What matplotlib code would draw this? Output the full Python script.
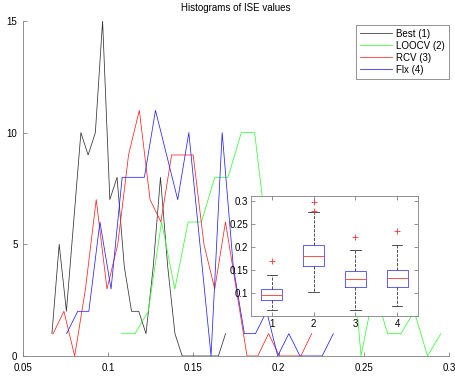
import numpy as np
import matplotlib
matplotlib.use('Agg')
import matplotlib.pyplot as plt

plt.rcParams['font.family'] = ['Liberation Sans', 'DejaVu Sans']
plt.rcParams['font.size'] = 7

# histogram counts (25 bins each)
labels = ['Best (1)', 'LOOCV (2)', 'RCV (3)', 'Flx (4)']
colors = ['#333333', '#33ff33', '#ff2222', '#2222ff']

best_counts = [1, 5, 2, 6, 10, 9, 10, 15, 7, 8, 4, 2, 2, 1, 4, 8, 4, 1, 0, 0, 0, 0, 0, 0, 1]
loocv_counts = [1, 1, 2, 6, 3, 6, 6, 8, 8, 10, 10, 5, 4, 5, 4, 4, 2, 7, 0, 3, 1, 1, 2, 0, 1]
rcv_counts = [1, 2, 0, 3, 7, 3, 5, 9, 11, 7, 6, 9, 9, 9, 5, 3, 6, 3, 0, 0, 1, 0, 0, 0, 1]
flx_counts = [1, 2, 2, 6, 3, 8, 8, 8, 11, 9, 7, 10, 5, 0, 10, 4, 1, 1, 2, 0, 1, 0, 0, 0, 1]

# first / last bin centre of each histogram
best_range = (0.0670, 0.1689)
loocv_range = (0.1079, 0.2952)
rcv_range = (0.0677, 0.2194)
flx_range = (0.0756, 0.2321)

# boxplot summary (ISE values)
box_pos = [1, 2, 3, 4]
box_med = [0.095, 0.180, 0.130, 0.132]
box_q1 = [0.0856, 0.1576, 0.113, 0.113]
box_q3 = [0.1086, 0.2036, 0.148, 0.150]
box_lo = [0.0633, 0.102, 0.063, 0.071]
box_hi = [0.138, 0.275, 0.192, 0.203]
box_out = [[0.170], [0.278, 0.297], [0.221], [0.2345]]

fig = plt.figure(figsize=(4.55, 3.8), dpi=100)
ax = fig.add_axes([0.0505, 0.0632, 0.9363, 0.8816])

series = [best_counts, loocv_counts, rcv_counts, flx_counts]
ranges = [best_range, loocv_range, rcv_range, flx_range]
for cnt, rng, lab, col in zip(series, ranges, labels, colors):
    centres = np.linspace(rng[0], rng[1], len(cnt))
    ax.plot(centres, cnt, color=col, lw=0.55, label=lab)

ax.set_xlim(0.05, 0.3)
ax.set_ylim(0, 15)
ax.set_xticks([0.05, 0.1, 0.15, 0.2, 0.25, 0.3])
ax.set_xticklabels(['0.05', '0.1', '0.15', '0.2', '0.25', '0.3'])
ax.set_yticks([0, 5, 10, 15])
ax.spines['top'].set_visible(False)
ax.spines['right'].set_visible(False)
for s in ['left', 'bottom']:
    ax.spines[s].set_color('#808080')
    ax.spines[s].set_linewidth(0.6)
ax.tick_params(direction='in', length=3, width=0.6, color='#808080', labelsize=7)
ax.tick_params(axis='x', pad=5)
ax.tick_params(axis='y', pad=4)
ax.set_title('Histograms of ISE values', fontsize=7, pad=7)

leg = ax.legend(loc='upper right', bbox_to_anchor=(1.0, 0.988), borderaxespad=0,
                fontsize=7, handlelength=3.3, handletextpad=0.4, borderpad=0.4,
                labelspacing=0.2, fancybox=False, framealpha=1)
leg.get_frame().set_edgecolor('#808080')
leg.get_frame().set_linewidth(0.6)

# inset boxplot
ins = fig.add_axes([0.5516, 0.1684, 0.367, 0.3158])
stats = []
for i in range(4):
    stats.append(dict(med=box_med[i], q1=box_q1[i], q3=box_q3[i],
                      whislo=box_lo[i], whishi=box_hi[i], fliers=box_out[i]))
ins.bxp(stats, positions=box_pos, widths=0.5,
        boxprops=dict(color='#4444ff', lw=0.6),
        medianprops=dict(color='#ff3333', lw=0.6),
        whiskerprops=dict(color='#333333', lw=0.6, ls='--'),
        capprops=dict(color='#333333', lw=0.6),
        capwidths=0.25,
        flierprops=dict(marker='+', markeredgecolor='#ff3333', markersize=5, markeredgewidth=0.6))
ins.set_xlim(0.5, 4.5)
ins.set_ylim(0.05, 0.31)
ins.set_yticks([0.1, 0.15, 0.2, 0.25, 0.3])
ins.set_yticklabels(['0.1', '0.15', '0.2', '0.25', '0.3'])
ins.set_xticks(box_pos)
ins.set_xticklabels(['1', '2', '3', '4'])
for s in ins.spines.values():
    s.set_color('#808080')
    s.set_linewidth(0.6)
ins.tick_params(direction='in', length=3, width=0.6, color='#808080', labelsize=7,
                pad=2, right=True, top=True)

fig.savefig('out.png', dpi=100)
